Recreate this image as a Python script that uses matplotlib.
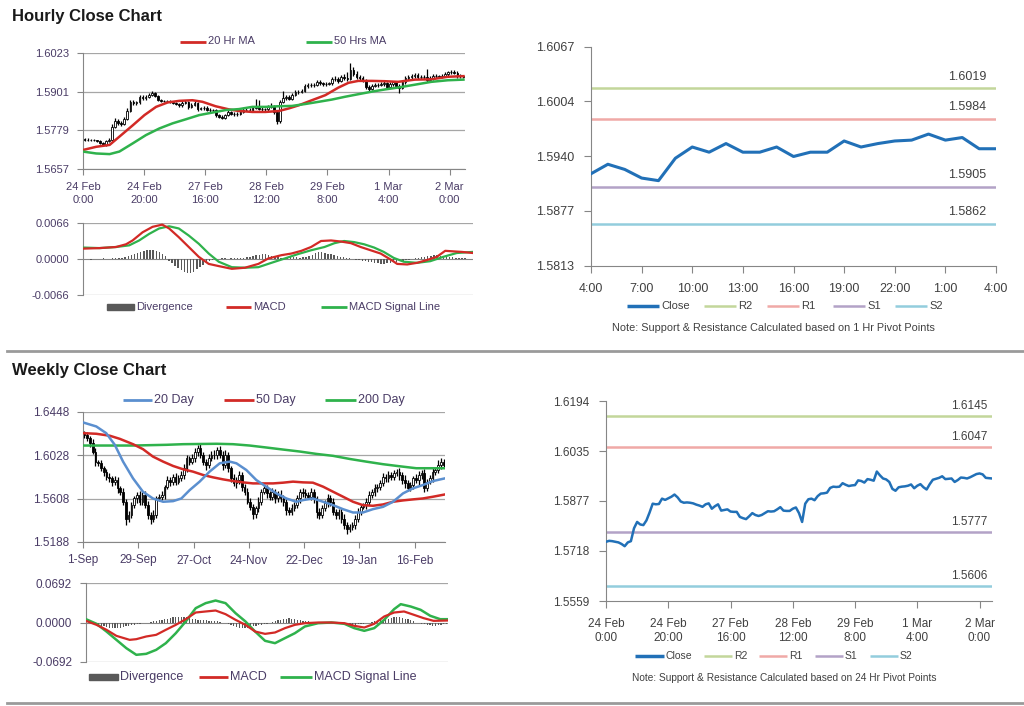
import numpy as np
import matplotlib
matplotlib.use("Agg")
import matplotlib.pyplot as plt
from matplotlib.lines import Line2D
from matplotlib.patches import Rectangle

plt.rcParams["font.family"] = ["Liberation Sans", "DejaVu Sans"]

W, H = 1024, 706

# ── Hourly candles (also the 24 hr pivot close line) ─────────────
hourly_first_open = 1.5752
hourly_close = [
    1.5747, 1.5750, 1.5749, 1.5747, 1.5745, 1.5740, 1.5733, 1.5745, 1.5749, 1.5790,
    1.5810, 1.5802, 1.5800, 1.5815, 1.5840, 1.5868, 1.5866, 1.5867, 1.5884, 1.5880,
    1.5885, 1.5890, 1.5897, 1.5888, 1.5875, 1.5871, 1.5872, 1.5871, 1.5869, 1.5865,
    1.5862, 1.5858, 1.5866, 1.5869, 1.5852, 1.5860, 1.5866, 1.5846, 1.5848, 1.5850,
    1.5843, 1.5842, 1.5842, 1.5826, 1.5822, 1.5819, 1.5828, 1.5838, 1.5832, 1.5829,
    1.5832, 1.5838, 1.5844, 1.5843, 1.5844, 1.5850, 1.5857, 1.5846, 1.5845, 1.5845,
    1.5852, 1.5856, 1.5838, 1.5810, 1.5868, 1.5882, 1.5884, 1.5879, 1.5892, 1.5900,
    1.5901, 1.5903, 1.5918, 1.5922, 1.5921, 1.5922, 1.5933, 1.5928, 1.5924, 1.5926,
    1.5927, 1.5942, 1.5940, 1.5935, 1.5946, 1.5944, 1.5941, 1.5970, 1.5958, 1.5948,
    1.5945, 1.5937, 1.5915, 1.5909, 1.5920, 1.5922, 1.5923, 1.5925, 1.5929, 1.5917,
    1.5925, 1.5930, 1.5920, 1.5913, 1.5930, 1.5944, 1.5947, 1.5950, 1.5955, 1.5946,
    1.5947, 1.5948, 1.5937, 1.5943, 1.5951, 1.5950, 1.5948, 1.5952, 1.5957, 1.5962,
    1.5964, 1.5961, 1.5950, 1.5949, 1.5948]
hourly_high = [
    1.5755, 1.5754, 1.5753, 1.5752, 1.5750, 1.5748, 1.5743, 1.5749, 1.5756, 1.5800,
    1.5818, 1.5815, 1.5808, 1.5822, 1.5848, 1.5875, 1.5874, 1.5873, 1.5890, 1.5889,
    1.5892, 1.5896, 1.5903, 1.5900, 1.5891, 1.5878, 1.5876, 1.5876, 1.5875, 1.5873,
    1.5869, 1.5866, 1.5871, 1.5876, 1.5873, 1.5865, 1.5872, 1.5869, 1.5853, 1.5856,
    1.5855, 1.5848, 1.5847, 1.5846, 1.5830, 1.5827, 1.5832, 1.5842, 1.5841, 1.5836,
    1.5836, 1.5843, 1.5849, 1.5849, 1.5850, 1.5856, 1.5879, 1.5874, 1.5852, 1.5851,
    1.5858, 1.5866, 1.5860, 1.5842, 1.5874, 1.5903, 1.5890, 1.5889, 1.5897, 1.5906,
    1.5907, 1.5909, 1.5924, 1.5928, 1.5927, 1.5928, 1.5938, 1.5937, 1.5932, 1.5931,
    1.5932, 1.5948, 1.5950, 1.5946, 1.5955, 1.5958, 1.5962, 1.5992, 1.5980, 1.5965,
    1.5955, 1.5950, 1.5941, 1.5921, 1.5925, 1.5928, 1.5929, 1.5931, 1.5935, 1.5933,
    1.5930, 1.5936, 1.5934, 1.5924, 1.5936, 1.5950, 1.5953, 1.5956, 1.5961, 1.5960,
    1.5953, 1.5954, 1.5974, 1.5949, 1.5957, 1.5957, 1.5955, 1.5958, 1.5963, 1.5967,
    1.5969, 1.5968, 1.5965, 1.5956, 1.5954]
hourly_low = [
    1.5744, 1.5745, 1.5746, 1.5744, 1.5741, 1.5737, 1.5729, 1.5731, 1.5741, 1.5746,
    1.5785, 1.5796, 1.5793, 1.5797, 1.5811, 1.5836, 1.5858, 1.5860, 1.5862, 1.5875,
    1.5876, 1.5881, 1.5886, 1.5884, 1.5871, 1.5867, 1.5867, 1.5867, 1.5865, 1.5861,
    1.5858, 1.5853, 1.5854, 1.5861, 1.5847, 1.5848, 1.5856, 1.5841, 1.5842, 1.5844,
    1.5839, 1.5837, 1.5836, 1.5821, 1.5817, 1.5815, 1.5816, 1.5825, 1.5828, 1.5825,
    1.5825, 1.5828, 1.5834, 1.5839, 1.5839, 1.5840, 1.5846, 1.5842, 1.5840, 1.5839,
    1.5841, 1.5848, 1.5832, 1.5800, 1.5802, 1.5864, 1.5876, 1.5874, 1.5875, 1.5888,
    1.5895, 1.5896, 1.5899, 1.5914, 1.5916, 1.5916, 1.5918, 1.5923, 1.5919, 1.5920,
    1.5921, 1.5923, 1.5934, 1.5929, 1.5930, 1.5938, 1.5935, 1.5938, 1.5950, 1.5940,
    1.5938, 1.5930, 1.5908, 1.5903, 1.5905, 1.5915, 1.5917, 1.5918, 1.5920, 1.5912,
    1.5913, 1.5920, 1.5914, 1.5896, 1.5908, 1.5926, 1.5939, 1.5942, 1.5945, 1.5941,
    1.5940, 1.5941, 1.5932, 1.5932, 1.5938, 1.5944, 1.5943, 1.5943, 1.5947, 1.5952,
    1.5957, 1.5956, 1.5945, 1.5944, 1.5943]
hourly_ticks = [0, 20, 40, 60, 80, 100, 120]
hourly_tick_labels = ["24 Feb\n0:00", "24 Feb\n20:00", "27 Feb\n16:00", "28 Feb\n12:00",
                      "29 Feb\n8:00", "1 Mar\n4:00", "2 Mar\n0:00"]
hourly_yticks = [1.5657, 1.5779, 1.5901, 1.6023]

ma20_bar = [0, 4.3, 8.7, 11.9, 16.3, 20.1, 23.9, 27.7, 31.5, 35.8, 39.1, 43.4, 47.8, 51.0,
            55.4, 59.7, 64.1, 67.3, 70.6, 74.9, 79.3, 83.6, 86.9, 90.1, 94.5, 98.8, 103.1,
            108.6, 114.0, 119.4, 124.5]
ma20_val = [1.5717, 1.5727, 1.5733, 1.5759, 1.5795, 1.5827, 1.5853, 1.5867, 1.5872, 1.5874,
            1.5869, 1.5855, 1.5845, 1.5840, 1.5837, 1.5837, 1.5840, 1.5848, 1.5858, 1.5874,
            1.5890, 1.5914, 1.5929, 1.5935, 1.5935, 1.5934, 1.5932, 1.5939, 1.5940, 1.5948,
            1.5950]
ma50_bar = [0, 4.3, 8.7, 11.9, 16.3, 20.6, 25.0, 29.3, 33.7, 38.0, 42.3, 46.7, 51.0, 55.4,
            59.7, 64.1, 68.4, 72.7, 77.1, 81.4, 85.8, 90.1, 94.5, 98.8, 103.1, 108.6, 114.0,
            119.4, 124.5]
ma50_val = [1.5712, 1.5706, 1.5704, 1.5712, 1.5738, 1.5764, 1.5785, 1.5801, 1.5814, 1.5827,
            1.5835, 1.5843, 1.5846, 1.5853, 1.5853, 1.5855, 1.5856, 1.5862, 1.5869, 1.5876,
            1.5885, 1.5893, 1.5901, 1.5908, 1.5914, 1.5923, 1.5932, 1.5937, 1.5939]

# ── Hourly MACD ──────────────────────────────────────────────────
h_macd_bar = [0, 5.3, 10.6, 13.8, 15.9, 19.1, 22.3, 25.4, 27.6, 30.7, 33.9, 37.1, 40.3, 43.5,
              47.7, 51.9, 56.2, 59.4, 63.6, 66.8, 70.0, 73.1, 76.3, 79.5, 82.7, 85.9, 89.0,
              92.2, 95.4, 98.6, 100.7, 103.9, 107.1, 110.2, 113.4, 116.1, 118.7, 121.4, 125.0]
h_macd_val = [0.0019, 0.0020, 0.0022, 0.0027, 0.0034, 0.0049, 0.0059, 0.0063, 0.0056, 0.0040,
              0.0022, 0.0004, -0.0009, -0.0013, -0.0018, -0.0016, -0.0009, 0.0001, 0.0007,
              0.0010, 0.0015, 0.0022, 0.0033, 0.0034, 0.0032, 0.0029, 0.0022, 0.0016, 0.0010,
              -0.0001, -0.0009, -0.0010, -0.0007, -0.0002, 0.0004, 0.0015, 0.0014, 0.0013,
              0.0011]
h_signal_bar = [0, 5.3, 10.6, 14.8, 18.0, 21.2, 24.4, 27.6, 30.7, 33.9, 37.1, 40.3, 43.5, 47.7,
                51.9, 56.2, 60.4, 64.7, 68.9, 73.1, 77.4, 80.6, 83.7, 86.9, 90.1, 93.3, 96.4,
                99.6, 102.8, 107.1, 111.3, 115.5, 119.8, 125.0]
h_signal_val = [0.0021, 0.0020, 0.0022, 0.0025, 0.0034, 0.0046, 0.0056, 0.0060, 0.0056, 0.0043,
                0.0028, 0.0010, -0.0005, -0.0015, -0.0016, -0.0015, -0.0007, 0.0001, 0.0009,
                0.0016, 0.0022, 0.0029, 0.0033, 0.0031, 0.0027, 0.0021, 0.0013, 0.0002,
                -0.0005, -0.0007, -0.0004, 0.0004, 0.0011, 0.0013]
# divergence, in units of 0.0001
h_divergence = [0, 0, -1, 0, 0, 0, 1, 0, 0, 1, 1, 2, 2,
                3, 5, 7, 9, 11, 13, 15, 17, 17, 16, 14, 12, 9, 6,
                -3, -7, -12, -17, -21, -24, -26, -25, -23, -19, -15, -11, -7, -4, -2,
                -1, 0, 1, 1, 0, 1, 1, 2, 1, 2, 3, 4,
                5, 7, 8, 10, 9, 8, 6, 4, 3,
                2, 2, 3, 3, 4, 3, 2, 3, 4,
                6, 8, 11, 13, 12, 11, 10, 9, 7, 5, 4, 3, 2, 1, 0, -1,
                -2, -3, -4, -5, -6, -7, -8, -9, -9, -8, -7, -6, -5, -4, -3, -2, -1, 0, 1,
                2, 3, 4, 5, 6, 7, 7, 6, 5, 5, 4, 3, 2, 2, 1, 1, 0, 0]
h_macd_yticks = [-0.0066, 0.0, 0.0066]
h_macd_labels = ["-0.0066", "0.0000", "0.0066"]

# ── 1 Hr pivot chart ─────────────────────────────────────────────
pivot1_close = [1.5920, 1.5931, 1.5925, 1.5915, 1.5912, 1.5938, 1.5951, 1.5945, 1.5955,
                1.5945, 1.5945, 1.5951, 1.5940, 1.5945, 1.5945, 1.5958, 1.5951, 1.5955,
                1.5958, 1.5959, 1.5966, 1.5959, 1.5962, 1.5949, 1.5949]
pivot1_ticks = [0, 3, 6, 9, 12, 15, 18, 21, 24]
pivot1_tick_labels = ["4:00", "7:00", "10:00", "13:00", "16:00", "19:00", "22:00", "1:00", "4:00"]
pivot1_yticks = [1.5813, 1.5877, 1.5940, 1.6004, 1.6067]
pivot1_levels = [1.6019, 1.5984, 1.5905, 1.5862]

# ── 24 Hr pivot chart (uses hourly_close) ────────────────────────
pivot24_yticks = [1.5559, 1.5718, 1.5877, 1.6035, 1.6194]
pivot24_levels = [1.6145, 1.6047, 1.5777, 1.5606]

pivot_names = ["R2", "R1", "S1", "S2"]
pivot_colors = ["#c3d69b", "#f0a9a7", "#b3a2c7", "#93cddd"]

# ── Daily candles (weekly chart) ─────────────────────────────────
daily_first_open = 1.6240
daily_close = [
    1.6227, 1.6195, 1.6146, 1.6065, 1.5967, 1.5951, 1.5903, 1.5870, 1.5821, 1.5805,
    1.5773, 1.5789, 1.5708, 1.5675, 1.5578, 1.5415, 1.5448, 1.5545, 1.5610, 1.5643,
    1.5578, 1.5643, 1.5545, 1.5448, 1.5415, 1.5448, 1.5610, 1.5627, 1.5643, 1.5724,
    1.5789, 1.5773, 1.5821, 1.5773, 1.5805, 1.5838, 1.5903, 1.6000, 1.5967, 1.6000,
    1.6065, 1.6097, 1.6032, 1.5967, 1.5935, 1.6000, 1.6032, 1.6032, 1.6081, 1.6032,
    1.5935, 1.6032, 1.5903, 1.5805, 1.5756, 1.5789, 1.5838, 1.5724, 1.5675, 1.5578,
    1.5529, 1.5464, 1.5513, 1.5578, 1.5675, 1.5708, 1.5659, 1.5627, 1.5675, 1.5610,
    1.5643, 1.5610, 1.5578, 1.5497, 1.5480, 1.5513, 1.5545, 1.5610, 1.5675, 1.5659,
    1.5643, 1.5627, 1.5675, 1.5610, 1.5480, 1.5448, 1.5513, 1.5562, 1.5610, 1.5578,
    1.5480, 1.5448, 1.5480, 1.5415, 1.5350, 1.5318, 1.5334, 1.5350, 1.5415, 1.5480,
    1.5529, 1.5545, 1.5578, 1.5643, 1.5675, 1.5708, 1.5724, 1.5756, 1.5821, 1.5805,
    1.5838, 1.5821, 1.5854, 1.5870, 1.5838, 1.5789, 1.5756, 1.5708, 1.5740, 1.5805,
    1.5789, 1.5838, 1.5854, 1.5708, 1.5773, 1.5805, 1.5870, 1.5886, 1.5935, 1.5967,
    1.5935]
# wick lengths above / below the body, in units of 0.0001
daily_wick_up = [
    20, 30, 25, 40, 30, 20, 35, 25, 30, 40,
    20, 35, 30, 25, 40, 30, 45, 35, 20, 30,
    40, 25, 35, 45, 30, 50, 25, 30, 35, 20,
    40, 30, 25, 35, 30, 40, 45, 30, 25, 40,
    35, 30, 50, 25, 30, 40, 35, 45, 30, 40,
    35, 50, 30, 25, 40, 30, 35, 25, 30, 40,
    35, 30, 25, 45, 30, 35, 30, 25, 40, 30,
    35, 45, 30, 25, 35, 40, 30, 35, 25, 40,
    45, 30, 35, 30, 25, 40, 30, 35, 45, 30,
    40, 25, 30, 35, 40, 30, 25, 30, 35, 40,
    30, 25, 40, 35, 30, 45, 25, 30, 35, 30,
    40, 30, 35, 25, 40, 30, 45, 35, 30, 25,
    40, 35, 30, 45, 30, 35, 40, 30, 50, 35,
    30]
daily_wick_dn = [
    30, 25, 35, 20, 40, 30, 25, 45, 30, 35,
    40, 30, 45, 35, 30, 60, 35, 25, 30, 40,
    30, 35, 25, 40, 50, 35, 30, 25, 30, 35,
    25, 40, 30, 35, 25, 30, 35, 40, 30, 25,
    35, 40, 30, 35, 45, 30, 25, 35, 40, 30,
    45, 30, 40, 35, 30, 45, 35, 40, 30, 25,
    35, 50, 40, 30, 35, 25, 40, 30, 35, 45,
    30, 35, 40, 45, 30, 35, 25, 30, 40, 35,
    30, 25, 35, 40, 55, 40, 30, 25, 35, 40,
    30, 40, 35, 45, 40, 50, 35, 30, 40, 35,
    30, 25, 35, 30, 25, 40, 35, 30, 25, 35,
    40, 30, 35, 30, 45, 35, 40, 30, 25, 35,
    30, 45, 35, 40, 30, 25, 40, 35, 30, 35,
    30]
daily_ticks = [0, 20, 40, 60, 80, 100, 120]
daily_tick_labels = ["1-Sep", "29-Sep", "27-Oct", "24-Nov", "22-Dec", "19-Jan", "16-Feb"]
daily_yticks = [1.5188, 1.5608, 1.6028, 1.6448]

ma20d_bar = [0, 4.8, 8.4, 11.5, 14.5, 18.1, 21.7, 25.3, 29.0, 32.6, 35.6, 38.6, 42.2, 45.8,
             49.5, 53.1, 55.5, 59.1, 62.7, 66.3, 70.0, 73.6, 77.2, 79.6, 83.2, 86.9, 90.5,
             94.1, 97.7, 101.3, 104.9, 108.6, 112.2, 115.8, 119.4, 123.0, 126.7, 131.0]
ma20d_val = [1.6347, 1.6308, 1.6243, 1.6130, 1.5967, 1.5805, 1.5675, 1.5610, 1.5578, 1.5584,
             1.5610, 1.5691, 1.5773, 1.5870, 1.5951, 1.5967, 1.5951, 1.5886, 1.5789, 1.5724,
             1.5659, 1.5610, 1.5578, 1.5594, 1.5610, 1.5578, 1.5545, 1.5506, 1.5474, 1.5474,
             1.5506, 1.5529, 1.5578, 1.5659, 1.5708, 1.5740, 1.5779, 1.5805]
ma50d_bar = [0, 4.8, 9.7, 13.3, 18.1, 21.7, 25.3, 29.0, 32.6, 36.2, 39.8, 43.4, 47.0, 50.7,
             54.3, 57.9, 61.5, 65.1, 68.8, 72.4, 76.0, 79.6, 83.2, 86.9, 90.5, 94.1, 97.7,
             101.3, 104.9, 108.6, 112.2, 115.8, 119.4, 123.0, 126.7, 131.0]
ma50d_val = [1.6243, 1.6237, 1.6218, 1.6188, 1.6136, 1.6088, 1.6016, 1.5967, 1.5925, 1.5893,
             1.5870, 1.5838, 1.5815, 1.5795, 1.5779, 1.5766, 1.5756, 1.5756, 1.5756, 1.5763,
             1.5773, 1.5766, 1.5763, 1.5724, 1.5675, 1.5627, 1.5578, 1.5545, 1.5539, 1.5552,
             1.5578, 1.5591, 1.5601, 1.5610, 1.5627, 1.5649]
ma200d_bar = [0, 18.1, 30.2, 36.2, 48.3, 54.3, 60.3, 66.3, 72.4, 78.4, 84.4, 90.5, 96.5,
              102.5, 108.6, 114.6, 120.6, 126.7, 131.0]
ma200d_val = [1.6123, 1.6123, 1.6130, 1.6136, 1.6140, 1.6136, 1.6123, 1.6104, 1.6084, 1.6065,
              1.6042, 1.6023, 1.5993, 1.5967, 1.5942, 1.5922, 1.5903, 1.5903, 1.5903]

# ── Daily MACD ───────────────────────────────────────────────────
d_macd_bar = [0, 3.8, 7.4, 11.0, 15.8, 18.2, 21.8, 25.4, 28.9, 32.5, 36.1, 39.7, 43.3, 46.9,
              50.5, 54.1, 57.7, 61.2, 64.8, 68.4, 72.0, 75.6, 79.2, 84.0, 88.8, 93.5, 97.1,
              100.7, 104.3, 107.9, 111.5, 115.1, 118.7, 122.2, 125.8, 131.0]
d_macd_val = [0.0029, -0.0041, -0.0128, -0.0234, -0.0304, -0.0292, -0.0245, -0.0216, -0.0128,
              -0.0041, 0.0058, 0.0175, 0.0193, 0.0210, 0.0146, 0.0047, -0.0041, -0.0158,
              -0.0199, -0.0175, -0.0099, -0.0041, -0.0012, 0.0, 0.0, -0.0012, -0.0058,
              -0.0088, -0.0023, 0.0105, 0.0175, 0.0193, 0.0134, 0.0076, 0.0029, 0.0035]
d_signal_bar = [0, 3.8, 7.4, 11.0, 14.6, 18.2, 21.8, 25.4, 28.9, 32.5, 36.1, 39.7, 43.3, 46.9,
                50.5, 54.1, 57.7, 61.2, 64.8, 68.4, 72.0, 75.6, 79.2, 84.0, 88.8, 93.5, 97.1,
                100.7, 104.3, 107.9, 111.5, 113.9, 117.5, 121.1, 124.6, 128.2, 131.0]
d_signal_val = [0.0058, -0.0023, -0.0158, -0.0304, -0.0450, -0.0566, -0.0549, -0.0479,
                -0.0362, -0.0187, 0.0018, 0.0251, 0.0339, 0.0385, 0.0339, 0.0164, 0.0018,
                -0.0158, -0.0321, -0.0362, -0.0274, -0.0187, -0.0070, -0.0012, 0.0, -0.0023,
                -0.0099, -0.0146, -0.0099, 0.0047, 0.0234, 0.0321, 0.0280, 0.0222, 0.0117,
                0.0058, 0.0058]
# divergence, in units of 0.001
d_divergence = [0, -1, -2, -3, -5,
                -6, -7, -8, -9, -10, -10, -9, -9, -8, -7, -6, -5, -4, -3,
                -2, -1, -1, 0, 1, 2,
                3, 4, 5, 6, 7, 8, 9, 10, 10, 10, 9, 9, 8, 7, 6,
                5, 5, 4, 4, 3, 3, 2, 2, 1, 0, -1, -2,
                -4, -6, -8, -9, -10, -10, -9, -8, -7, -6, -5, -4, -3, -2, -1,
                1, 2, 4, 5, 6, 7, 8, 7, 6, 5, 4, 3, 2, 2, 1,
                1, 0, 0, 1, 0, 0, -1, -1, 0, -1, -2, -2, -3, -3, -4, -4, -3, -3, -2, -1,
                0, 1, 2, 3, 4,
                5, 6, 7, 8, 9, 9, 9, 8, 7, 6, 4, 2, 0,
                -1, -2, -3, -4, -5, -6, -6, -5, -4, -3, -2]
d_macd_yticks = [-0.0692, 0.0, 0.0692]
d_macd_labels = ["-0.0692", "0.0000", "0.0692"]

RED = "#d22a26"
GREEN = "#2fb24c"
BLUE = "#5b8fcf"
CLOSE_BLUE = "#2170b7"
GRID = "#a6a6a6"
AXIS = "#868686"
LEFT_TXT = "#4a3c66"
RIGHT_TXT = "#404040"


def add_axes_px(fig, left, top, right, bottom):
    return fig.add_axes([left / W, 1 - bottom / H, (right - left) / W, (bottom - top) / H])


def fig_y(y):
    return 1 - y / H


def legend_line(fig, x0, x1, y, color, lw, label, fs, tcolor):
    fig.add_artist(Line2D([x0 / W, x1 / W], [fig_y(y), fig_y(y)], color=color, lw=lw,
                          transform=fig.transFigure, solid_capstyle="butt"))
    fig.text((x1 + 2) / W, fig_y(y), label, ha="left", va="center", fontsize=fs, color=tcolor)


def legend_box(fig, x0, x1, y, label, fs, tcolor):
    fig.add_artist(Rectangle((x0 / W, fig_y(y + 3)), (x1 - x0) / W, 6 / H, color="#595959",
                             transform=fig.transFigure))
    fig.text((x1 + 2) / W, fig_y(y), label, ha="left", va="center", fontsize=fs, color=tcolor)


def draw_candles(ax, first_open, highs, lows, closes, width):
    closes = np.asarray(closes)
    opens = np.concatenate([[first_open], closes[:-1]])
    x = np.arange(len(closes)) + 0.5
    ax.vlines(x, lows, highs, color="black", linewidth=0.9, zorder=3)
    up = closes >= opens
    ax.bar(x[up], (closes - opens)[up], bottom=opens[up], width=width, color="white",
           edgecolor="black", linewidth=0.6, zorder=4)
    ax.bar(x[~up], (closes - opens)[~up], bottom=opens[~up], width=width, color="black",
           edgecolor="black", linewidth=0.6, zorder=4)


def style_price_axes(ax, n, ticks, tick_labels, yticks, fs, linespacing=1.2):
    for s in ["top", "right"]:
        ax.spines[s].set_visible(False)
    for s in ["left", "bottom"]:
        ax.spines[s].set_color(AXIS)
        ax.spines[s].set_linewidth(0.8)
    ax.set_xlim(0, n)
    ax.set_ylim(yticks[0], yticks[-1])
    ax.set_xticks(ticks)
    ax.set_xticklabels(tick_labels, linespacing=linespacing)
    ax.set_yticks(yticks)
    ax.set_yticklabels([f"{v:.4f}" for v in yticks])
    ax.yaxis.grid(True, color=GRID, linewidth=0.9)
    ax.set_axisbelow(True)
    ax.tick_params(axis="both", colors=AXIS, labelcolor=LEFT_TXT, labelsize=fs,
                   length=4, width=0.8)
    ax.tick_params(axis="x", pad=5)
    ax.tick_params(axis="y", pad=6)


def style_macd_axes(ax, n, yticks, ylabels, fs):
    for s in ["top", "right", "bottom"]:
        ax.spines[s].set_visible(False)
    ax.spines["left"].set_color(AXIS)
    ax.spines["left"].set_linewidth(0.8)
    ax.set_xlim(0, n)
    ax.set_ylim(yticks[0], yticks[-1])
    ax.set_xticks([])
    ax.set_yticks(yticks)
    ax.set_yticklabels(ylabels)
    ax.axhline(yticks[0], color=GRID, linewidth=0.9, zorder=0)
    ax.axhline(yticks[-1], color=GRID, linewidth=0.9, zorder=0)
    ax.axhline(0, color=AXIS, linewidth=0.8, zorder=1)
    ax.tick_params(axis="y", colors=AXIS, labelcolor=LEFT_TXT, labelsize=fs, length=4,
                   width=0.8, pad=6)


def style_pivot_axes(ax, xmax, ticks, tick_labels, yticks, fs):
    for s in ["top", "right"]:
        ax.spines[s].set_visible(False)
    for s in ["left", "bottom"]:
        ax.spines[s].set_color(AXIS)
        ax.spines[s].set_linewidth(0.8)
    ax.set_xlim(0, xmax)
    ax.set_ylim(yticks[0], yticks[-1])
    ax.set_xticks(ticks)
    ax.set_xticklabels(tick_labels, linespacing=1.3)
    ax.set_yticks(yticks)
    ax.set_yticklabels([f"{v:.4f}" for v in yticks])
    ax.tick_params(axis="both", colors=AXIS, labelcolor=RIGHT_TXT, labelsize=fs, length=5,
                   width=0.8)
    ax.tick_params(axis="x", pad=7)
    ax.tick_params(axis="y", pad=7)


fig = plt.figure(figsize=(W / 100, H / 100), dpi=100)
fig.patch.set_facecolor("white")

# ── Section titles and separators ────────────────────────────────
fig.text(12 / W, fig_y(16), "Hourly Close Chart", fontsize=12, fontweight="bold",
         ha="left", va="center", color="#1a1a1a")
fig.text(12 / W, fig_y(370), "Weekly Close Chart", fontsize=12, fontweight="bold",
         ha="left", va="center", color="#1a1a1a")
for y in (351, 703):
    fig.add_artist(Line2D([7 / W, 1.0], [fig_y(y), fig_y(y)], color="#9a9a9a", lw=2,
                          transform=fig.transFigure))

# ── Panel 1: Hourly candles + MAs ────────────────────────────────
n_h = len(hourly_close)
ax1 = add_axes_px(fig, 83, 53, 465, 169)
draw_candles(ax1, hourly_first_open, hourly_high, hourly_low, hourly_close, 0.55)
ax1.plot(ma20_bar, ma20_val, color=RED, linewidth=1.8, zorder=5)
ax1.plot(ma50_bar, ma50_val, color=GREEN, linewidth=1.8, zorder=5)
style_price_axes(ax1, n_h, hourly_ticks, hourly_tick_labels, hourly_yticks, 8, 1.45)
legend_line(fig, 180, 206, 41.5, RED, 2, "20 Hr MA", 8, LEFT_TXT)
legend_line(fig, 306, 332, 41.5, GREEN, 2, "50 Hrs MA", 8, LEFT_TXT)

# ── Panel 2: Hourly MACD ─────────────────────────────────────────
ax2 = add_axes_px(fig, 83, 223, 473, 295)
ax2.bar(np.arange(n_h) + 0.5, np.array(h_divergence) * 1e-4, width=0.45, color="#595959",
        zorder=2)
ax2.plot(h_macd_bar, h_macd_val, color=RED, linewidth=1.6, zorder=4)
ax2.plot(h_signal_bar, h_signal_val, color=GREEN, linewidth=1.6, zorder=3)
style_macd_axes(ax2, n_h, h_macd_yticks, h_macd_labels, 8)
legend_box(fig, 107, 134, 307, "Divergence", 8, LEFT_TXT)
legend_line(fig, 226, 251, 307, RED, 2, "MACD", 8, LEFT_TXT)
legend_line(fig, 321, 347, 307, GREEN, 2, "MACD Signal Line", 8, LEFT_TXT)

# ── Panel 3: 1 Hr pivot chart ────────────────────────────────────
ax3 = add_axes_px(fig, 591, 47, 996, 266)
n_p1 = len(pivot1_close) - 1
for lvl, col in zip(pivot1_levels, pivot_colors):
    ax3.axhline(lvl, color=col, linewidth=1.8, zorder=2)
    ax3.annotate(f"{lvl:.4f}", xy=(n_p1, lvl), xytext=(-7, 4), textcoords="offset points",
                 ha="right", va="bottom", fontsize=9, color=RIGHT_TXT)
ax3.plot(np.arange(len(pivot1_close)), pivot1_close, color=CLOSE_BLUE, linewidth=2.2, zorder=3)
style_pivot_axes(ax3, n_p1, pivot1_ticks, pivot1_tick_labels, pivot1_yticks, 9)
lx = [627, 704, 767, 833, 895]
legend_line(fig, lx[0], lx[0] + 32, 306, CLOSE_BLUE, 2.5, "Close", 8, RIGHT_TXT)
for i, (name, col) in enumerate(zip(pivot_names, pivot_colors)):
    legend_line(fig, lx[i + 1], lx[i + 1] + 32, 306, col, 1.8, name, 8, RIGHT_TXT)
fig.text(773 / W, fig_y(328), "Note: Support & Resistance Calculated based on 1 Hr Pivot Points",
         ha="center", va="center", fontsize=7.8, color=RIGHT_TXT)

# ── Panel 4: Daily candles + MAs ─────────────────────────────────
n_d = len(daily_close)
d_close = np.array(daily_close)
d_open = np.concatenate([[daily_first_open], d_close[:-1]])
d_high = np.maximum(d_open, d_close) + np.array(daily_wick_up) * 1e-4
d_low = np.minimum(d_open, d_close) - np.array(daily_wick_dn) * 1e-4
ax4 = add_axes_px(fig, 83, 412, 445, 542)
draw_candles(ax4, daily_first_open, d_high, d_low, daily_close, 0.6)
ax4.plot(ma200d_bar, ma200d_val, color=GREEN, linewidth=1.8, zorder=5)
ax4.plot(ma50d_bar, ma50d_val, color=RED, linewidth=1.8, zorder=5)
ax4.plot(ma20d_bar, ma20d_val, color=BLUE, linewidth=1.8, zorder=5)
style_price_axes(ax4, n_d, daily_ticks, daily_tick_labels, daily_yticks, 8.5)
legend_line(fig, 123, 152, 400, BLUE, 2, "20 Day", 9, LEFT_TXT)
legend_line(fig, 224, 254, 400, RED, 2, "50 Day", 9, LEFT_TXT)
legend_line(fig, 325, 356, 400, GREEN, 2, "200 Day", 9, LEFT_TXT)

# ── Panel 5: Daily MACD ──────────────────────────────────────────
ax5 = add_axes_px(fig, 86, 583, 448, 662)
ax5.bar(np.arange(n_d) + 0.5, np.array(d_divergence) * 1e-3, width=0.45, color="#595959",
        zorder=2)
ax5.plot(d_macd_bar, d_macd_val, color=RED, linewidth=1.6, zorder=4)
ax5.plot(d_signal_bar, d_signal_val, color=GREEN, linewidth=1.8, zorder=3)
style_macd_axes(ax5, n_d, d_macd_yticks, d_macd_labels, 8.5)
legend_box(fig, 89, 118, 677, "Divergence", 9, LEFT_TXT)
legend_line(fig, 199, 228, 677, RED, 2, "MACD", 9, LEFT_TXT)
legend_line(fig, 280, 312, 677, GREEN, 2, "MACD Signal Line", 9, LEFT_TXT)

# ── Panel 6: 24 Hr pivot chart ───────────────────────────────────
ax6 = add_axes_px(fig, 606, 401, 992, 601)
n_p24 = n_h - 1
for lvl, col in zip(pivot24_levels, pivot_colors):
    ax6.axhline(lvl, color=col, linewidth=1.8, zorder=2)
    ax6.annotate(f"{lvl:.4f}", xy=(n_p24, lvl), xytext=(-3, 3), textcoords="offset points",
                 ha="right", va="bottom", fontsize=8.5, color=RIGHT_TXT)
ax6.plot(np.arange(n_h), hourly_close, color=CLOSE_BLUE, linewidth=1.8, zorder=3)
style_pivot_axes(ax6, n_p24, hourly_ticks, hourly_tick_labels, pivot24_yticks, 8.5)
lx = [635, 704, 759, 815, 870]
legend_line(fig, lx[0], lx[0] + 29, 656, CLOSE_BLUE, 2.5, "Close", 7.5, RIGHT_TXT)
for i, (name, col) in enumerate(zip(pivot_names, pivot_colors)):
    legend_line(fig, lx[i + 1], lx[i + 1] + 28, 656, col, 1.8, name, 7.5, RIGHT_TXT)
fig.text(784 / W, fig_y(678), "Note: Support & Resistance Calculated based on 24 Hr Pivot Points",
         ha="center", va="center", fontsize=7.3, color=RIGHT_TXT)

fig.savefig("out.png", dpi=100, facecolor="white")
